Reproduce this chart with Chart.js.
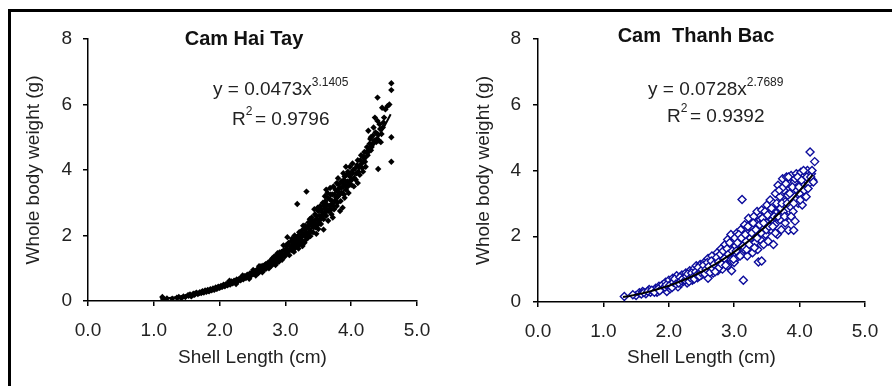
<!DOCTYPE html>
<html>
<head>
<meta charset="utf-8">
<script src="https://cdn.jsdelivr.net/npm/chart.js@4.4.0/dist/chart.umd.min.js"></script>
<style>
  body { margin: 0; background: #fff; width: 892px; height: 386px; overflow: hidden; position: relative; }
  #frame { position: absolute; left: 8px; top: 9px; width: 884px; height: 377px; border-left: 3px solid #000; border-top: 3px solid #000; box-sizing: border-box; }
  canvas { position: absolute; top: 12px; }
  #haiTayChart { left: 11px; }
  #thanhBacChart { left: 446px; }
</style>
</head>
<body>
<div id="frame"></div>
<canvas id="haiTayChart" width="435" height="374"></canvas>
<canvas id="thanhBacChart" width="446" height="374"></canvas>
<script>
// Cam Hai Tay: shell length (cm), whole body weight (g)
var haiTayPoints = [
  [1.13,0.12],[1.15,0.06],[1.2,0.08],[1.28,0.07],[1.35,0.1],[1.38,0.12],[1.42,0.09],[1.45,0.14],[1.48,0.12],
  [1.52,0.18],[1.55,0.2],[1.57,0.14],[1.6,0.22],[1.62,0.19],[1.65,0.25],[1.67,0.21],[1.7,0.27],[1.72,0.24],
  [1.74,0.3],[1.76,0.26],[1.78,0.32],[1.8,0.28],[1.82,0.34],[1.84,0.3],[1.86,0.36],[1.88,0.33],[1.9,0.38],
  [1.92,0.34],[1.94,0.41],[1.96,0.37],[1.98,0.44],
  [1.53,0.16],[1.59,0.18],[1.63,0.23],[1.69,0.24],[1.73,0.27],[1.79,0.3],[1.83,0.31],[1.87,0.34],[1.91,0.36],
  [1.95,0.38],[1.99,0.42],[2.03,0.44],[2.07,0.47],[2.11,0.5],[2.13,0.52],[2.17,0.56],[2.19,0.55],[2.21,0.58],
  [2.23,0.6],[2.27,0.63],[2.29,0.65],[2.31,0.66],[2.33,0.68],[2.37,0.72],[2.39,0.74],[2.41,0.75],[2.43,0.77],
  [2.47,0.81],[2.49,0.84],
  [2.0,0.4],[2.02,0.46],[2.04,0.43],[2.06,0.5],[2.08,0.45],[2.1,0.52],[2.12,0.48],[2.14,0.55],[2.16,0.5],
  [2.18,0.6],[2.2,0.54],[2.22,0.62],[2.24,0.57],[2.26,0.66],[2.28,0.6],[2.3,0.68],[2.32,0.63],[2.34,0.72],
  [2.36,0.66],[2.38,0.76],[2.4,0.7],[2.42,0.8],[2.44,0.73],[2.46,0.84],[2.48,0.78],[2.5,0.88],[2.15,0.62],
  [2.25,0.52],[2.35,0.78],[2.45,0.68],
  [2.52,0.82],[2.54,0.92],[2.56,0.86],[2.58,0.98],[2.6,0.9],[2.62,1.02],[2.64,0.94],[2.66,1.08],[2.68,1.0],
  [2.7,1.12],[2.72,1.04],[2.74,1.18],[2.76,1.08],[2.78,1.24],[2.8,1.14],[2.82,1.3],[2.84,1.2],[2.86,1.36],
  [2.88,1.26],[2.9,1.42],[2.92,1.3],[2.94,1.5],[2.96,1.38],[2.98,1.56],[3.0,1.44],[2.55,0.78],[2.65,0.88],
  [2.75,1.0],[2.85,1.1],[2.95,1.26],[2.6,1.06],[2.7,0.98],[2.8,1.3],[2.9,1.2],[2.97,1.7],[2.88,1.46],
  [2.51,0.95],[2.53,0.86],[2.57,0.93],[2.59,0.85],[2.61,0.97],[2.63,1.06],[2.67,0.96],[2.69,1.1],[2.71,1.0],
  [2.73,1.1],[2.77,1.16],[2.79,1.08],[2.81,1.22],[2.83,1.36],[2.87,1.2],[2.89,1.35],[2.91,1.48],[2.93,1.4],
  [2.99,1.36],[3.01,1.7],
  [3.02,1.6],[3.04,1.5],[3.05,1.78],[3.06,1.4],[3.08,1.66],[3.1,1.9],[3.1,1.55],[3.12,1.72],[3.14,2.0],
  [3.15,1.62],[3.16,1.85],[3.18,1.7],[3.2,2.0],[3.2,1.6],[3.22,1.9],[3.24,1.78],[3.25,2.15],[3.26,1.68],
  [3.28,2.0],[3.3,1.85],[3.3,2.3],[3.32,2.1],[3.34,1.92],[3.35,2.4],[3.36,2.2],[3.38,1.98],[3.4,2.55],
  [3.4,2.3],[3.42,2.1],[3.44,2.45],[3.45,2.65],[3.46,2.25],[3.48,2.5],[3.5,2.75],[3.5,2.2],[3.5,2.4],
  [3.18,2.96],[3.32,3.34],[3.03,1.95],[3.13,1.5],[3.27,2.3],[3.37,2.5],[3.47,2.05],[3.44,2.8],
  [3.01,1.52],[3.03,1.72],[3.07,1.58],[3.09,1.82],[3.11,1.62],[3.13,1.88],[3.15,1.76],[3.17,1.95],[3.19,1.82],
  [3.21,2.1],[3.21,1.72],[3.23,1.98],[3.25,1.85],[3.27,2.05],[3.29,2.2],[3.29,1.78],[3.31,1.98],[3.33,2.25],
  [3.35,2.05],[3.37,2.32],[3.39,2.12],[3.41,2.42],[3.43,2.25],[3.45,2.35],[3.47,2.6],[3.49,2.32],[3.49,2.85],
  [3.51,2.45],
  [3.52,2.6],[3.53,2.9],[3.54,2.35],[3.56,2.7],[3.57,3.0],[3.58,2.18],[3.58,2.5],[3.6,2.8],[3.6,3.2],
  [3.62,2.6],[3.63,2.95],[3.64,3.3],[3.65,2.45],[3.66,2.75],[3.68,3.1],[3.68,3.45],[3.7,2.65],[3.7,2.95],
  [3.72,3.25],[3.73,3.5],[3.74,2.8],[3.75,3.05],[3.76,3.4],[3.78,3.6],[3.78,2.9],[3.8,3.2],[3.8,3.75],
  [3.82,3.45],[3.83,2.75],[3.84,3.05],[3.85,3.65],[3.86,3.3],[3.88,3.9],[3.88,3.5],[3.9,3.15],[3.9,3.8],
  [3.92,4.1],[3.92,3.4],[3.94,3.65],[3.95,3.95],[3.96,3.3],[3.98,3.8],[3.98,4.1],[4.0,3.55],[3.55,2.55],
  [3.62,3.4],[3.72,2.55],[3.87,2.85],
  [3.53,2.5],[3.55,2.8],[3.57,2.62],[3.59,2.9],[3.61,2.7],[3.61,3.05],[3.63,2.8],[3.65,3.15],[3.67,2.9],
  [3.69,3.25],[3.69,2.78],[3.71,3.05],[3.73,2.9],[3.75,3.25],[3.77,3.15],[3.79,3.35],[3.79,3.0],[3.81,3.55],
  [3.83,3.3],[3.85,3.45],[3.87,3.6],[3.89,3.25],[3.89,3.7],[3.91,3.55],[3.93,3.85],[3.95,3.5],[3.97,3.65],
  [3.99,3.9],
  [4.02,3.9],[4.02,4.2],[4.04,3.5],[4.05,3.75],[4.06,4.05],[4.08,3.9],[4.1,4.3],[4.1,3.6],[4.12,4.1],
  [4.13,3.85],[4.15,4.45],[4.16,4.2],[4.18,3.95],[4.2,4.55],[4.2,4.35],[4.22,4.1],[4.24,4.7],[4.25,4.45],
  [4.26,5.2],[4.28,4.8],[4.3,4.6],[4.3,5.0],[4.32,4.8],[4.34,5.3],[4.35,4.9],[4.36,5.6],[4.38,4.85],
  [4.4,5.1],[4.4,5.5],[4.41,4.03],[4.4,6.21],[4.42,4.9],[4.44,5.25],[4.45,4.85],
  [4.01,3.7],[4.03,4.0],[4.07,3.7],[4.09,4.15],[4.11,3.95],[4.14,4.3],[4.17,4.05],[4.19,4.4],[4.21,4.25],
  [4.23,4.55],[4.27,4.6],[4.29,4.95],[4.31,4.7],[4.33,5.05],[4.37,5.15],[4.39,4.95],[4.43,5.4],[4.46,5.1],
  [4.49,5.45],
  [4.47,5.9],[4.5,5.6],[4.52,5.85],[4.55,5.95],[4.61,6.65],[4.61,6.44],[4.61,5.0],[4.61,4.25],[4.58,6.0],[4.48,5.3]
];
var haiTayFitLength = [1.1,1.2,1.3,1.4,1.5,1.6,1.7,1.8,1.9,2.0,2.1,2.2,2.3,2.4,2.5,2.6,2.7,2.8,2.9,3.0,
  3.1,3.2,3.3,3.4,3.5,3.6,3.7,3.8,3.9,4.0,4.1,4.2,4.3,4.4,4.5,4.6];
var haiTayFitWeight = [0.064,0.084,0.108,0.136,0.169,0.207,0.25,0.30,0.355,0.417,0.486,0.562,0.647,0.739,0.84,
  0.95,1.07,1.20,1.34,1.49,1.65,1.82,2.01,2.21,2.42,2.64,2.88,3.13,3.39,3.68,3.97,4.28,4.61,4.96,5.32,5.70];

// Cam Thanh Bac
var thanhBacPoints = [
  [1.32,0.17],[1.5,0.2],[1.55,0.28],[1.6,0.32],[1.65,0.25],[1.7,0.38],[1.72,0.3],[1.76,0.34],[1.8,0.42],
  [1.82,0.3],[1.85,0.48],[1.88,0.38],[1.9,0.52],[1.92,0.42],[1.95,0.6],[1.97,0.32],[1.98,0.48],[2.0,0.66],
  [2.02,0.4],[2.04,0.56],[2.06,0.72],[2.08,0.5],[2.1,0.62],[2.12,0.8],[2.14,0.46],[2.16,0.68],[2.18,0.56],
  [2.2,0.82],[2.22,0.62],[2.24,0.74],[2.26,0.88],[2.28,0.58],[2.3,0.7],[2.32,0.95],[2.34,0.8],[2.36,0.66],
  [2.38,1.0],[2.4,0.86],[2.42,1.1],[2.44,0.74],[2.46,0.95],[2.48,1.14],[2.5,0.82],[2.52,1.04],[2.54,1.2],
  [2.56,0.9],[2.58,1.1],[2.6,1.32],[2.6,0.72],[2.62,0.96],[2.64,1.18],[2.66,1.4],[2.68,0.88],[2.7,1.05],
  [2.72,1.28],[2.74,1.5],[2.75,0.95],[2.78,1.15],[2.8,1.62],[2.8,1.38],[2.82,1.0],[2.84,1.25],[2.86,1.75],
  [2.88,1.48],[2.9,1.1],[2.9,1.9],[2.92,1.35],[2.94,1.6],[2.95,2.05],[2.96,0.95],[2.98,1.8],[3.0,1.45],
  [3.0,1.2],[3.02,1.7],[3.04,2.1],[3.05,1.35],[3.06,1.9],[3.08,1.55],[3.1,2.2],[3.1,1.75],[3.12,3.12],
  [3.14,0.66],[3.12,1.45],[3.14,2.0],[3.15,1.6],[3.16,2.35],[3.18,1.85],[3.2,1.4],[3.2,2.1],[3.22,2.55],
  [3.24,1.65],[3.25,1.95],[3.26,2.3],[3.28,1.5],[3.3,2.6],[3.3,2.05],[3.32,1.8],[3.34,2.4],[3.35,2.75],
  [3.36,1.6],[3.37,1.22],[3.42,1.25],[3.38,2.15],[3.4,2.5],[3.4,1.9],[3.42,2.8],[3.44,2.25],[3.45,1.75],
  [3.46,2.6],[3.48,2.05],[3.5,2.95],[3.5,2.4],[3.52,1.85],[3.54,2.7],[3.55,3.1],[3.56,2.2],[3.58,2.5],
  [3.6,3.0],[3.6,1.75],[3.62,2.35],[3.63,3.3],[3.64,2.7],[3.66,2.05],[3.67,3.55],[3.68,2.9],[3.7,2.5],
  [3.7,3.2],[3.72,2.2],[3.74,3.75],[3.75,2.75],[3.76,3.4],[3.78,2.4],[3.78,3.05],[3.8,3.8],[3.8,2.6],
  [3.82,3.25],[3.83,2.18],[3.84,3.6],[3.86,2.9],[3.87,3.85],[3.88,3.35],[3.9,2.75],[3.91,2.18],[3.92,3.65],
  [3.93,2.46],[3.94,3.1],[3.95,3.9],[3.96,3.4],[3.98,3.0],[4.0,3.75],[4.0,3.3],[4.02,3.95],[4.04,2.95],
  [4.05,3.55],[4.08,3.85],[4.1,3.2],[4.12,4.0],[4.14,3.6],[4.16,4.56],[4.18,3.9],[4.2,3.7],[4.23,4.27],
  [1.45,0.22],[1.58,0.24],[1.62,0.29],[1.68,0.33],[1.74,0.36],[1.78,0.3],[1.84,0.4],[1.86,0.34],[1.94,0.45],
  [1.96,0.52],[2.01,0.5],[2.05,0.44],[2.07,0.6],[2.09,0.7],[2.11,0.55],[2.15,0.58],[2.17,0.75],[2.19,0.65],
  [2.21,0.7],[2.25,0.66],[2.27,0.78],[2.29,0.85],[2.31,0.62],[2.33,0.74],[2.35,0.88],[2.37,0.76],[2.39,0.7],
  [2.41,0.92],[2.43,0.82],[2.45,1.05],[2.47,0.78],[2.49,0.9],[2.51,0.98],[2.53,1.12],[2.55,0.86],[2.57,1.0],
  [2.59,1.2],[2.61,1.08],[2.63,0.9],[2.65,1.25],[2.67,1.02],[2.69,1.15],[2.71,0.92],[2.73,1.35],[2.76,1.22],
  [2.77,1.05],[2.79,1.45],[2.81,1.15],[2.83,1.55],[2.85,1.32],[2.87,1.12],[2.89,1.62],[2.91,1.45],[2.93,1.8],
  [2.97,1.55],[2.99,1.3],[3.01,1.95],[3.03,1.55],[3.05,1.8],[3.07,2.05],[3.09,1.4],[3.11,1.95],[3.13,1.7],
  [3.17,2.05],[3.19,1.6],[3.21,2.3],[3.23,1.75],[3.27,2.1],[3.29,2.4],[3.31,1.65],[3.33,2.2],[3.35,1.95],
  [3.39,2.35],[3.41,2.1],[3.43,2.55],[3.45,2.4],[3.47,2.75],[3.49,2.2],[3.51,2.65],[3.53,2.3],[3.57,2.85],
  [3.59,2.3],[3.61,2.6],[3.63,2.1],[3.65,3.0],[3.67,2.6],[3.69,3.4],[3.71,2.85],[3.73,3.0],[3.75,3.5],
  [3.77,2.6],[3.79,3.6],[3.81,3.0],[3.83,3.8],[3.85,3.3],[3.87,2.6],[3.89,3.5],[3.91,3.0],[3.93,3.75],
  [3.97,3.8],[3.99,3.5],[4.01,3.1],[4.03,3.7],[4.06,4.0],[4.07,3.4],[4.11,3.8],[4.13,3.45],[4.17,3.8],
  [4.19,4.0],[4.21,3.65]
];
var thanhBacFitLength = [1.3,1.4,1.5,1.6,1.7,1.8,1.9,2.0,2.1,2.2,2.3,2.4,2.5,2.6,2.7,2.8,2.9,3.0,
  3.1,3.2,3.3,3.4,3.5,3.6,3.7,3.8,3.9,4.0,4.1,4.2];
var thanhBacFitWeight = [0.151,0.185,0.224,0.267,0.316,0.371,0.431,0.496,0.568,0.646,0.731,0.822,0.92,
  1.026,1.139,1.26,1.388,1.525,1.67,1.824,1.985,2.16,2.337,2.53,2.725,2.93,3.15,3.38,3.62,3.87];

var xTicks = [0, 1, 2, 3, 4, 5];
var yTicks = [0, 2, 4, 6, 8];

Chart.defaults.font.family = "'Liberation Sans', Arial, sans-serif";
Chart.defaults.color = '#222';

// titles and fitted equations
var notesPlugin = {
  id: 'notes',
  afterDraw: function (chart, args, o) {
    var ctx = chart.ctx;
    var fam = Chart.defaults.font.family;
    ctx.save();
    ctx.fillStyle = '#111';
    ctx.textBaseline = 'alphabetic';
    ctx.font = 'bold 20px ' + fam;
    ctx.textAlign = 'center';
    ctx.fillText(o.title, o.titleX, o.titleY);
    ctx.textAlign = 'left';
    ctx.fillStyle = '#222';
    // y = a x^b
    ctx.font = '19px ' + fam;
    ctx.fillText(o.eq, o.eqX, o.eqY);
    var w = ctx.measureText(o.eq).width;
    ctx.font = '12px ' + fam;
    ctx.fillText(o.exp, o.eqX + w, o.eqY - 9);
    // R^2
    ctx.font = '19px ' + fam;
    ctx.fillText('R', o.rX, o.rY);
    var rw = ctx.measureText('R').width;
    ctx.font = '12px ' + fam;
    ctx.fillText('2', o.rX + rw, o.rY - 10);
    ctx.font = '19px ' + fam;
    ctx.fillText(' = ' + o.r2, o.rX + rw + 4, o.rY);
    ctx.restore();
  }
};

function makeChart(id, points, fitX, fitY, pointStyle, notes, yWidth, yTitlePad, yTickPad, rightPad, topPad, xHeight) {
  var fit = fitX.map(function (x, i) { return { x: x, y: fitY[i] }; });
  var pts = points.map(function (p) { return { x: p[0], y: p[1] }; });
  var axisGrid = { display: true, drawOnChartArea: false, drawTicks: true, tickLength: 5, color: '#000', lineWidth: 1.5 };
  return new Chart(id, {
    type: 'scatter',
    data: {
      datasets: [{
        data: fit,
        showLine: true,
        borderColor: '#000',
        borderWidth: 2,
        pointRadius: 0,
        order: 0
      }, Object.assign({ data: pts, order: 1 }, pointStyle)]
    },
    options: {
      responsive: false,
      animation: false,
      events: [],
      layout: { padding: { left: 0, right: rightPad, top: topPad, bottom: 0 } },
      plugins: { legend: { display: false }, tooltip: { enabled: false }, notes: notes },
      scales: {
        x: {
          type: 'linear', min: 0, max: 5,
          afterBuildTicks: function (s) { s.ticks = xTicks.map(function (v) { return { value: v }; }); },
          ticks: { font: { size: 19 }, color: '#222', padding: 13, callback: function (v) { return v.toFixed(1); } },
          grid: axisGrid,
          border: { color: '#000', width: 1.5 },
          title: { display: true, text: 'Shell Length (cm)', font: { size: 19 }, color: '#222', padding: { top: 0, bottom: 17 } },
          afterFit: function (s) { s.height = xHeight; }
        },
        y: {
          min: 0, max: 8,
          afterBuildTicks: function (s) { s.ticks = yTicks.map(function (v) { return { value: v }; }); },
          ticks: { font: { size: 19 }, color: '#222', padding: yTickPad },
          grid: axisGrid,
          border: { color: '#000', width: 1.5 },
          title: { display: true, text: 'Whole body weight (g)', font: { size: 19 }, color: '#222', padding: { top: yTitlePad, bottom: 0 } },
          afterFit: function (s) { s.width = yWidth; }
        }
      }
    },
    plugins: [notesPlugin]
  });
}

makeChart('haiTayChart', haiTayPoints, haiTayFitLength, haiTayFitWeight,
  { pointStyle: 'rectRot', pointRadius: 3.2, backgroundColor: '#000', borderWidth: 0 },
  { title: 'Cam Hai Tay', titleX: 233, titleY: 33, eq: 'y = 0.0473x', exp: '3.1405', eqX: 202, eqY: 83, r2: '0.9796', rX: 221, rY: 113 },
  77, 11, 11, 29, 27, 85);

makeChart('thanhBacChart', thanhBacPoints, thanhBacFitLength, thanhBacFitWeight,
  { pointStyle: 'rectRot', pointRadius: 4, backgroundColor: '#fff', borderColor: '#0c0c9c', borderWidth: 1.4 },
  { title: 'Cam  Thanh Bac', titleX: 250, titleY: 30, eq: 'y = 0.0728x', exp: '2.7689', eqX: 202, eqY: 83, r2: '0.9392', rX: 221, rY: 110 },
  92, 26, 12, 27, 27, 84);
</script>
</body>
</html>
